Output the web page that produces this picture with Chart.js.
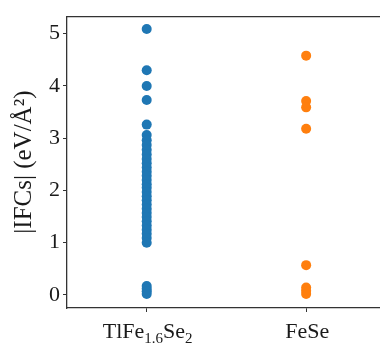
<!DOCTYPE html>
<html>
<head>
<meta charset="utf-8">
<script src="https://cdn.jsdelivr.net/npm/chart.js@4"></script>
<style>
  html, body { margin: 0; padding: 0; background: #fff; overflow: hidden; }
  #c { display: block; }
</style>
</head>
<body>
<canvas id="c" width="384" height="349"></canvas>
<script>
// categorias y valores
const categories = [
    [{ t: 'TlFe' }, { t: '1.6', sub: true }, { t: 'Se' }, { t: '2', sub: true }],
    [{ t: 'FeSe' }]
];
const tlfeValues = [5.09, 4.30, 4.00, 3.73, 3.26, 3.06, 2.96, 2.87, 2.78, 2.69, 2.60, 2.52,
    2.44, 2.36, 2.28, 2.20, 2.12, 2.05, 1.97, 1.89, 1.81, 1.73, 1.65, 1.57, 1.49, 1.41,
    1.33, 1.25, 1.17, 1.09, 1.00, 0.17, 0.12, 0.07, 0.02];
const feseValues = [4.58, 3.71, 3.59, 3.18, 0.57, 0.14, 0.08, 0.02];
const yTicks = [0, 1, 2, 3, 4, 5];
const yLabel = '|IFCs| (eV/Å²)';

const serif = 'Liberation Serif';
const axisColor = '#333';

// etiquetas del eje x con subindices
const xLabelPlugin = {
    id: 'xLabels',
    afterDraw(chart) {
        const ctx = chart.ctx;
        const xs = chart.scales.x;
        const baseY = xs.top + 30;
        ctx.save();
        ctx.fillStyle = '#1a1a1a';
        ctx.textBaseline = 'alphabetic';
        categories.forEach((parts, i) => {
            let total = 0;
            parts.forEach(p => {
                ctx.font = (p.sub ? 15 : 22) + 'px "' + serif + '"';
                p.w = ctx.measureText(p.t).width;
                total += p.w;
            });
            let x = xs.getPixelForValue(i) - total / 2 + 1;
            parts.forEach(p => {
                ctx.font = (p.sub ? 15 : 22) + 'px "' + serif + '"';
                ctx.textAlign = 'left';
                ctx.fillText(p.t, x, baseY + (p.sub ? 5 : 0));
                x += p.w;
            });
        });
        ctx.restore();
    }
};

new Chart(document.getElementById('c'), {
    type: 'scatter',
    data: {
        datasets: [
            {
                data: tlfeValues.map(v => ({ x: 0, y: v })),
                backgroundColor: '#1f77b4',
                borderWidth: 0,
                pointRadius: 5
            },
            {
                data: feseValues.map(v => ({ x: 1, y: v })),
                backgroundColor: '#ff7f0e',
                borderWidth: 0,
                pointRadius: 5
            }
        ]
    },
    options: {
        responsive: false,
        animation: false,
        layout: { padding: { top: 13, right: 0, left: 0, bottom: 0 } },
        plugins: { legend: { display: false }, tooltip: { enabled: false } },
        scales: {
            x: {
                type: 'linear',
                position: 'bottom',
                min: -0.5,
                max: 1.457,
                afterBuildTicks: s => { s.ticks = [{ value: 0 }, { value: 1 }]; },
                afterFit: s => { s.height = 41; },
                ticks: { callback: () => '', padding: 0 },
                grid: { drawOnChartArea: false, drawTicks: true, tickLength: 4, tickColor: axisColor, tickWidth: 1 },
                border: { display: true, color: axisColor, width: 1.3 }
            },
            x2: {
                type: 'linear',
                position: 'top',
                min: -0.5,
                max: 1.457,
                afterFit: s => { s.height = 0; },
                ticks: { display: false },
                grid: { display: false },
                border: { display: true, color: axisColor, width: 1.3 }
            },
            y: {
                min: -0.25,
                max: 5.335,
                afterBuildTicks: s => { s.ticks = yTicks.map(v => ({ value: v })); },
                afterFit: s => { s.width = 67; },
                ticks: {
                    color: '#1a1a1a',
                    padding: 3,
                    font: { family: serif, size: 22 }
                },
                title: {
                    display: true,
                    text: yLabel,
                    color: '#1a1a1a',
                    padding: { top: 9, bottom: 0 },
                    font: { family: serif, size: 25, lineHeight: 1.2 }
                },
                grid: { drawOnChartArea: false, drawTicks: true, tickLength: 4, tickColor: axisColor, tickWidth: 1 },
                border: { display: true, color: axisColor, width: 1.3 }
            }
        }
    },
    plugins: [xLabelPlugin]
});
</script>
</body>
</html>
